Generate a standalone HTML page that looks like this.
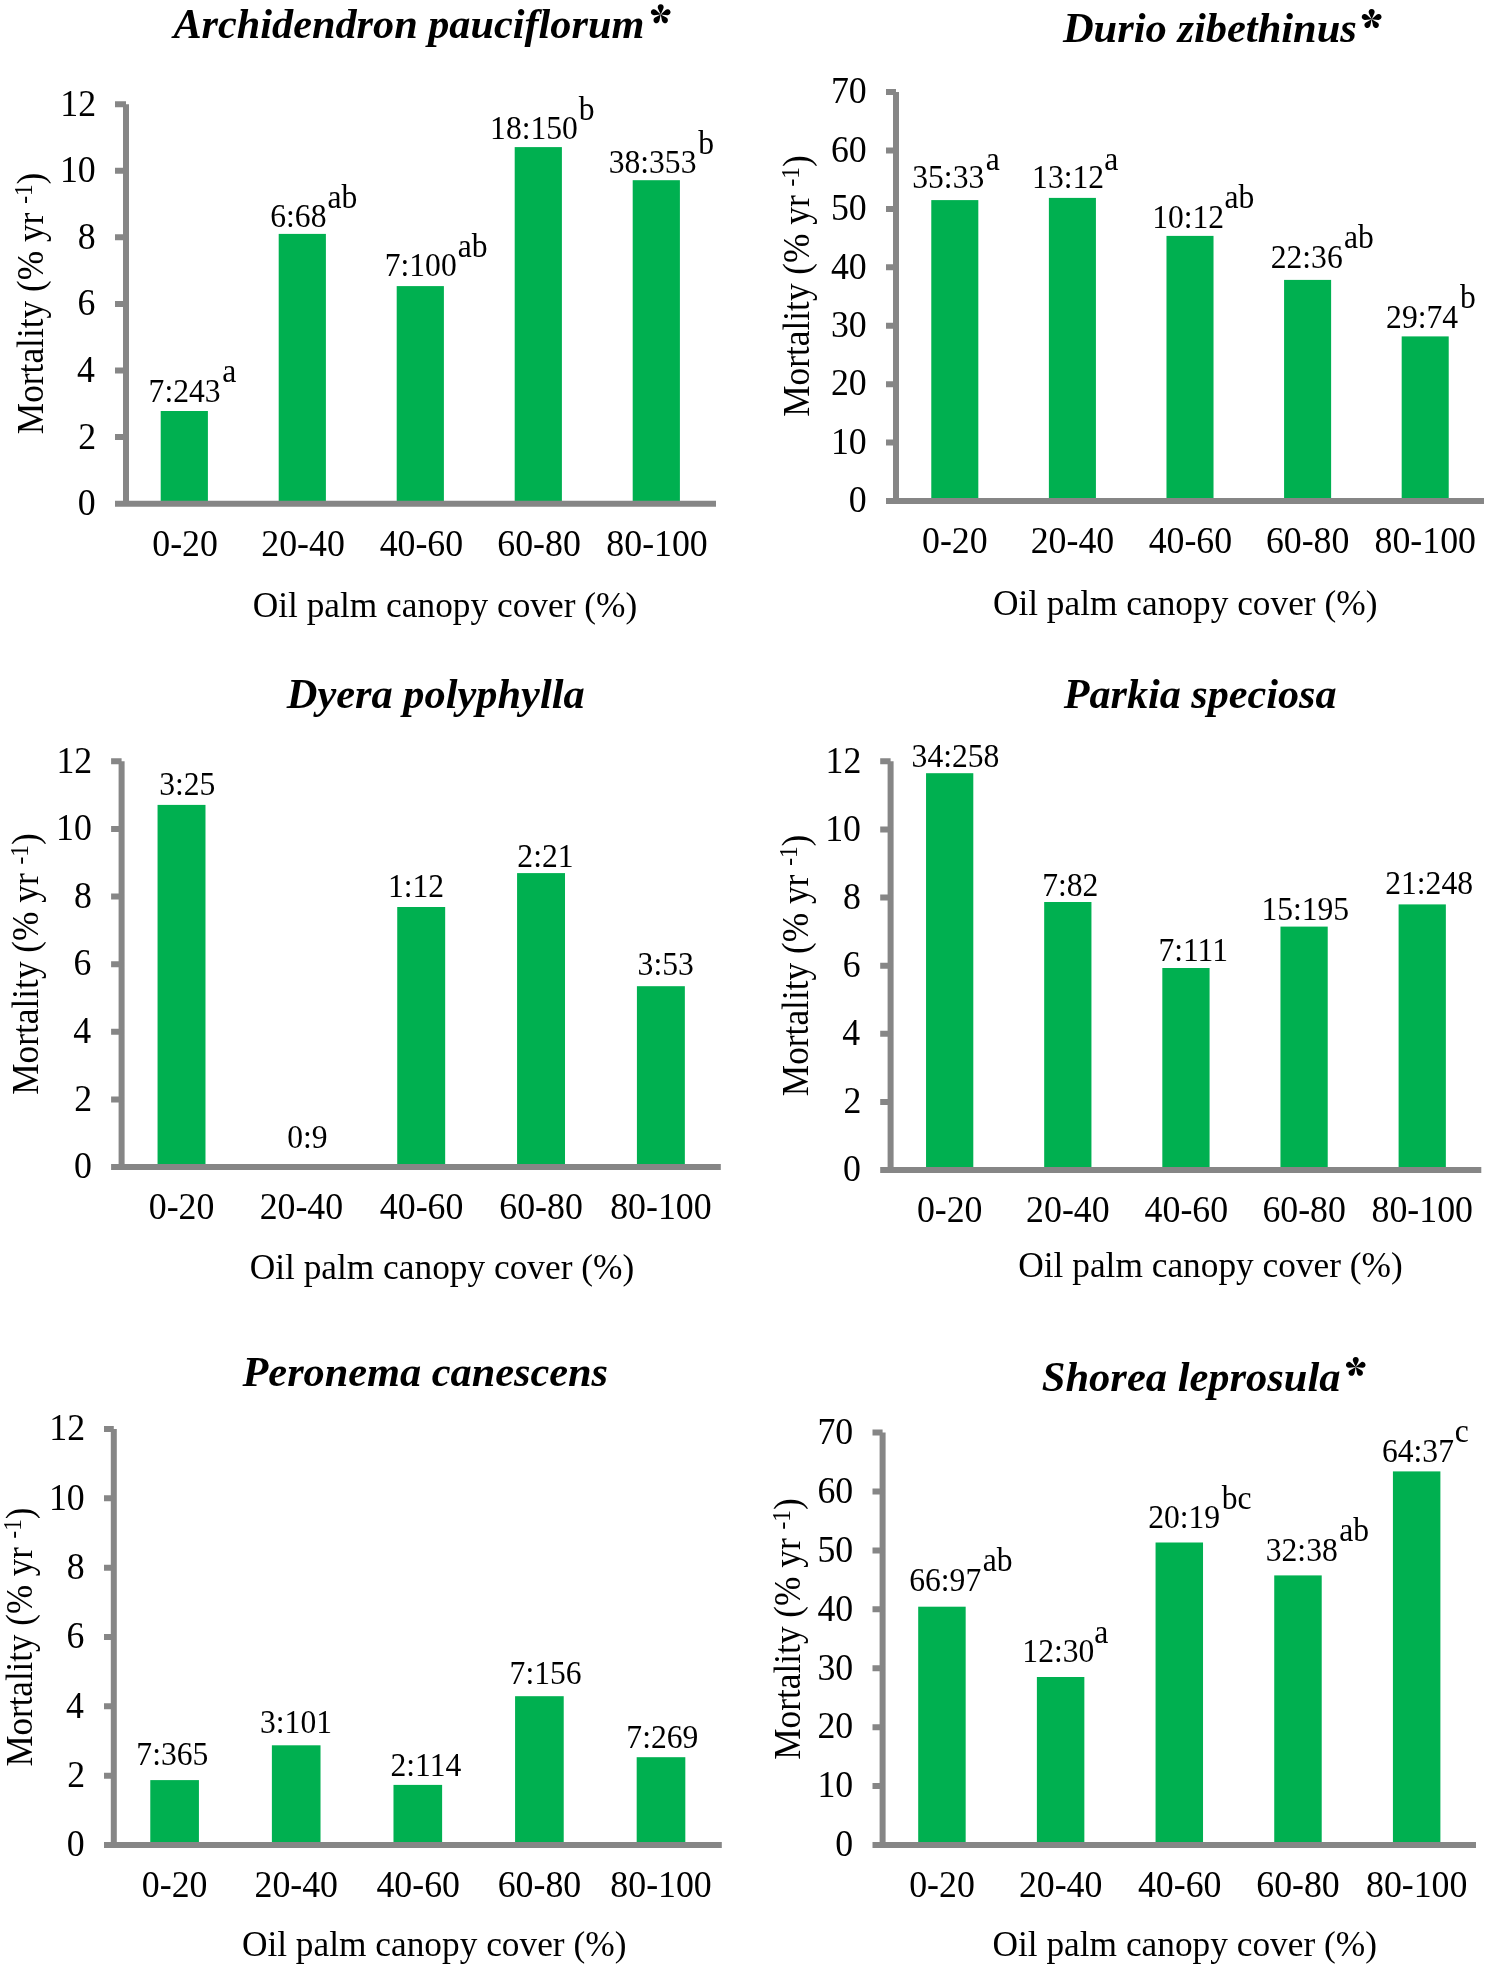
<!DOCTYPE html>
<html><head><meta charset="utf-8"><style>
html,body{margin:0;padding:0;background:#fff;}
svg{display:block;}
#c{position:absolute;left:0;top:0;width:1489px;height:1968px;will-change:transform;}
text{font-family:"Liberation Serif",serif;font-size:100px;fill:#000;}
</style></head><body>
<div id="c"><svg width="1489" height="1968" viewBox="0 0 1489 1968">
<rect width="1489" height="1968" fill="#fff"/>
<rect x="160.7" y="411" width="47.2" height="92.7" fill="#00B050"/>
<rect x="278.7" y="233.9" width="47.2" height="269.8" fill="#00B050"/>
<rect x="396.7" y="286.1" width="47.2" height="217.6" fill="#00B050"/>
<rect x="514.7" y="147.1" width="47.2" height="356.6" fill="#00B050"/>
<rect x="632.7" y="180.2" width="47.2" height="323.5" fill="#00B050"/>
<path d="M126 104.2V503.7M115 104.2H126M115 170.78H126M115 237.37H126M115 303.95H126M115 370.53H126M115 437.12H126M115 503.7H716" stroke="#868686" stroke-width="6" fill="none"/>
<text transform="matrix(0.358 0 0 0.37 60.29 115.63)">12</text>
<text transform="matrix(0.358 0 0 0.37 59.93 182.02)">10</text>
<text transform="matrix(0.358 0 0 0.37 77.83 248.61)">8</text>
<text transform="matrix(0.358 0 0 0.37 77.47 315.19)">6</text>
<text transform="matrix(0.358 0 0 0.37 77.12 381.77)">4</text>
<text transform="matrix(0.358 0 0 0.37 78.19 448.54)">2</text>
<text transform="matrix(0.358 0 0 0.37 77.83 514.94)">0</text>
<text transform="matrix(0.358 0 0 0.37 152.24 556.12)">0-20</text>
<text transform="matrix(0.358 0 0 0.37 261.29 556.12)">20-40</text>
<text transform="matrix(0.358 0 0 0.37 379.65 556.12)">40-60</text>
<text transform="matrix(0.358 0 0 0.37 497.29 556.12)">60-80</text>
<text transform="matrix(0.358 0 0 0.37 606.34 556.12)">80-100</text>
<text transform="matrix(0.316 0 0 0.33 148.6 402.23)">7:243</text>
<text transform="matrix(0.316 0 0 0.33 270.28 227.31)">6:68</text>
<text transform="matrix(0.316 0 0 0.33 384.75 276.46)">7:100</text>
<text transform="matrix(0.316 0 0 0.33 490.09 139.16)">18:150</text>
<text transform="matrix(0.316 0 0 0.33 608.67 173.31)">38:353</text>
<text transform="matrix(0.316 0 0 0.33 222.18 382.04)">a</text>
<text transform="matrix(0.316 0 0 0.33 327.45 207.87)">ab</text>
<text transform="matrix(0.316 0 0 0.33 457.75 256.52)">ab</text>
<text transform="matrix(0.316 0 0 0.33 578.63 119.52)">b</text>
<text transform="matrix(0.316 0 0 0.33 698.13 153.52)">b</text>
<text transform="matrix(0.4228 0 0 0.42973 173.41 37.8)" font-weight="bold" font-style="italic">Archidendron pauciflorum</text>
<g transform="translate(660.7 14.4) scale(0.99998)"><path transform="rotate(0)" d="M0 0L-2.72 -5.95A3 3 0 1 1 2.72 -5.95Z"/><path transform="rotate(72)" d="M0 0L-2.72 -5.95A3 3 0 1 1 2.72 -5.95Z"/><path transform="rotate(144)" d="M0 0L-2.72 -5.95A3 3 0 1 1 2.72 -5.95Z"/><path transform="rotate(216)" d="M0 0L-2.72 -5.95A3 3 0 1 1 2.72 -5.95Z"/><path transform="rotate(288)" d="M0 0L-2.72 -5.95A3 3 0 1 1 2.72 -5.95Z"/></g>
<text transform="matrix(0.3534 0 0 0.36 252.69 616.9)">Oil palm canopy cover (%)</text>
<text transform="matrix(0 -0.353 0.372 0 42.7 434.16)">Mortality (% yr <tspan dy="-28" font-size="66">-1</tspan><tspan dy="28">)</tspan></text>
<rect x="931.28" y="200.1" width="47.04" height="300.9" fill="#00B050"/>
<rect x="1048.88" y="197.9" width="47.04" height="303.1" fill="#00B050"/>
<rect x="1166.48" y="235.9" width="47.04" height="265.1" fill="#00B050"/>
<rect x="1284.08" y="279.9" width="47.04" height="221.1" fill="#00B050"/>
<rect x="1401.68" y="336.4" width="47.04" height="164.6" fill="#00B050"/>
<path d="M896 92.1V501M886 92.1H896M886 150.51H896M886 208.93H896M886 267.34H896M886 325.76H896M886 384.17H896M886 442.59H896M886 501H1484" stroke="#868686" stroke-width="6" fill="none"/>
<text transform="matrix(0.358 0 0 0.37 830.93 103.34)">70</text>
<text transform="matrix(0.358 0 0 0.37 830.93 161.75)">60</text>
<text transform="matrix(0.358 0 0 0.37 830.93 220.17)">50</text>
<text transform="matrix(0.358 0 0 0.37 830.93 278.58)">40</text>
<text transform="matrix(0.358 0 0 0.37 830.93 337)">30</text>
<text transform="matrix(0.358 0 0 0.37 830.93 395.41)">20</text>
<text transform="matrix(0.358 0 0 0.37 830.93 453.83)">10</text>
<text transform="matrix(0.358 0 0 0.37 848.83 512.24)">0</text>
<text transform="matrix(0.358 0 0 0.37 922.04 553.42)">0-20</text>
<text transform="matrix(0.358 0 0 0.37 1030.69 553.42)">20-40</text>
<text transform="matrix(0.358 0 0 0.37 1148.65 553.42)">40-60</text>
<text transform="matrix(0.358 0 0 0.37 1265.89 553.42)">60-80</text>
<text transform="matrix(0.358 0 0 0.37 1374.54 553.42)">80-100</text>
<text transform="matrix(0.316 0 0 0.33 912.27 188.32)">35:33</text>
<text transform="matrix(0.316 0 0 0.33 1032.1 188.17)">13:12</text>
<text transform="matrix(0.316 0 0 0.33 1152.2 228.36)">10:12</text>
<text transform="matrix(0.316 0 0 0.33 1270.72 268.21)">22:36</text>
<text transform="matrix(0.316 0 0 0.33 1386.11 328.03)">29:74</text>
<text transform="matrix(0.316 0 0 0.33 985.68 169.84)">a</text>
<text transform="matrix(0.316 0 0 0.33 1104.28 169.84)">a</text>
<text transform="matrix(0.316 0 0 0.33 1224.45 208.42)">ab</text>
<text transform="matrix(0.316 0 0 0.33 1344.1 247.87)">ab</text>
<text transform="matrix(0.316 0 0 0.33 1460.03 308.22)">b</text>
<text transform="matrix(0.42493 0 0 0.43189 1062.92 42.3)" font-weight="bold" font-style="italic">Durio zibethinus</text>
<g transform="translate(1371.65 19.15) scale(1.00513)"><path transform="rotate(0)" d="M0 0L-2.72 -5.95A3 3 0 1 1 2.72 -5.95Z"/><path transform="rotate(72)" d="M0 0L-2.72 -5.95A3 3 0 1 1 2.72 -5.95Z"/><path transform="rotate(144)" d="M0 0L-2.72 -5.95A3 3 0 1 1 2.72 -5.95Z"/><path transform="rotate(216)" d="M0 0L-2.72 -5.95A3 3 0 1 1 2.72 -5.95Z"/><path transform="rotate(288)" d="M0 0L-2.72 -5.95A3 3 0 1 1 2.72 -5.95Z"/></g>
<text transform="matrix(0.3534 0 0 0.36 992.89 614.7)">Oil palm canopy cover (%)</text>
<text transform="matrix(0 -0.353 0.372 0 809.1 416.76)">Mortality (% yr <tspan dy="-28" font-size="66">-1</tspan><tspan dy="28">)</tspan></text>
<rect x="157.55" y="804.9" width="47.94" height="362.1" fill="#00B050"/>
<rect x="397.23" y="907" width="47.94" height="260" fill="#00B050"/>
<rect x="517.07" y="873.1" width="47.94" height="293.9" fill="#00B050"/>
<rect x="636.91" y="986.2" width="47.94" height="180.8" fill="#00B050"/>
<path d="M121.6 761.3V1167M111.1 761.3H121.6M111.1 828.92H121.6M111.1 896.53H121.6M111.1 964.15H121.6M111.1 1031.77H121.6M111.1 1099.38H121.6M111.1 1167H720.8" stroke="#868686" stroke-width="6" fill="none"/>
<text transform="matrix(0.358 0 0 0.37 56.39 772.72)">12</text>
<text transform="matrix(0.358 0 0 0.37 56.03 840.16)">10</text>
<text transform="matrix(0.358 0 0 0.37 73.93 907.77)">8</text>
<text transform="matrix(0.358 0 0 0.37 73.57 975.39)">6</text>
<text transform="matrix(0.358 0 0 0.37 73.22 1043.01)">4</text>
<text transform="matrix(0.358 0 0 0.37 74.29 1110.81)">2</text>
<text transform="matrix(0.358 0 0 0.37 73.93 1178.24)">0</text>
<text transform="matrix(0.358 0 0 0.37 148.76 1219.42)">0-20</text>
<text transform="matrix(0.358 0 0 0.37 259.65 1219.42)">20-40</text>
<text transform="matrix(0.358 0 0 0.37 379.85 1219.42)">40-60</text>
<text transform="matrix(0.358 0 0 0.37 499.33 1219.42)">60-80</text>
<text transform="matrix(0.358 0 0 0.37 610.22 1219.42)">80-100</text>
<text transform="matrix(0.316 0 0 0.33 159.22 795.02)">3:25</text>
<text transform="matrix(0.316 0 0 0.33 287.13 1148.26)">0:9</text>
<text transform="matrix(0.316 0 0 0.33 388 897.08)">1:12</text>
<text transform="matrix(0.316 0 0 0.33 517.34 866.62)">2:21</text>
<text transform="matrix(0.316 0 0 0.33 637.62 974.63)">3:53</text>
<text transform="matrix(0.42397 0 0 0.43092 286.82 707.9)" font-weight="bold" font-style="italic">Dyera polyphylla</text>
<text transform="matrix(0.3534 0 0 0.36 249.69 1278.8)">Oil palm canopy cover (%)</text>
<text transform="matrix(0 -0.353 0.372 0 38.1 1094.76)">Mortality (% yr <tspan dy="-28" font-size="66">-1</tspan><tspan dy="28">)</tspan></text>
<rect x="926.04" y="773.2" width="47.26" height="396.8" fill="#00B050"/>
<rect x="1044.18" y="902" width="47.26" height="268" fill="#00B050"/>
<rect x="1162.32" y="968" width="47.26" height="202" fill="#00B050"/>
<rect x="1280.46" y="926.6" width="47.26" height="243.4" fill="#00B050"/>
<rect x="1398.6" y="904.4" width="47.26" height="265.6" fill="#00B050"/>
<path d="M890.6 761.3V1170M880.2 761.3H890.6M880.2 829.42H890.6M880.2 897.53H890.6M880.2 965.65H890.6M880.2 1033.77H890.6M880.2 1101.88H890.6M880.2 1170H1481.3" stroke="#868686" stroke-width="6" fill="none"/>
<text transform="matrix(0.358 0 0 0.37 825.49 772.72)">12</text>
<text transform="matrix(0.358 0 0 0.37 825.13 840.66)">10</text>
<text transform="matrix(0.358 0 0 0.37 843.03 908.77)">8</text>
<text transform="matrix(0.358 0 0 0.37 842.67 976.89)">6</text>
<text transform="matrix(0.358 0 0 0.37 842.32 1045.01)">4</text>
<text transform="matrix(0.358 0 0 0.37 843.39 1113.31)">2</text>
<text transform="matrix(0.358 0 0 0.37 843.03 1181.24)">0</text>
<text transform="matrix(0.358 0 0 0.37 916.91 1222.42)">0-20</text>
<text transform="matrix(0.358 0 0 0.37 1026.1 1222.42)">20-40</text>
<text transform="matrix(0.358 0 0 0.37 1144.6 1222.42)">40-60</text>
<text transform="matrix(0.358 0 0 0.37 1262.38 1222.42)">60-80</text>
<text transform="matrix(0.358 0 0 0.37 1371.57 1222.42)">80-100</text>
<text transform="matrix(0.316 0 0 0.33 911.62 766.66)">34:258</text>
<text transform="matrix(0.316 0 0 0.33 1042.22 896.46)">7:82</text>
<text transform="matrix(0.316 0 0 0.33 1158.38 961.02)">7:111</text>
<text transform="matrix(0.316 0 0 0.33 1261.39 920.13)">15:195</text>
<text transform="matrix(0.316 0 0 0.33 1385.23 894.31)">21:248</text>
<text transform="matrix(0.42171 0 0 0.42862 1063.7 708.4)" font-weight="bold" font-style="italic">Parkia speciosa</text>
<text transform="matrix(0.3534 0 0 0.36 1018.29 1277.1)">Oil palm canopy cover (%)</text>
<text transform="matrix(0 -0.353 0.372 0 807.8 1096.16)">Mortality (% yr <tspan dy="-28" font-size="66">-1</tspan><tspan dy="28">)</tspan></text>
<rect x="150.28" y="1780.1" width="48.64" height="64.9" fill="#00B050"/>
<rect x="271.88" y="1745.3" width="48.64" height="99.7" fill="#00B050"/>
<rect x="393.48" y="1784.9" width="48.64" height="60.1" fill="#00B050"/>
<rect x="515.08" y="1696.2" width="48.64" height="148.8" fill="#00B050"/>
<rect x="636.68" y="1757.2" width="48.64" height="87.8" fill="#00B050"/>
<path d="M113.8 1429V1845M104 1429H113.8M104 1498.33H113.8M104 1567.67H113.8M104 1637H113.8M104 1706.33H113.8M104 1775.67H113.8M104 1845H721.8" stroke="#868686" stroke-width="6" fill="none"/>
<text transform="matrix(0.358 0 0 0.37 49.29 1440.43)">12</text>
<text transform="matrix(0.358 0 0 0.37 48.93 1509.57)">10</text>
<text transform="matrix(0.358 0 0 0.37 66.83 1578.91)">8</text>
<text transform="matrix(0.358 0 0 0.37 66.47 1648.24)">6</text>
<text transform="matrix(0.358 0 0 0.37 66.12 1717.57)">4</text>
<text transform="matrix(0.358 0 0 0.37 67.19 1787.09)">2</text>
<text transform="matrix(0.358 0 0 0.37 66.83 1856.24)">0</text>
<text transform="matrix(0.358 0 0 0.37 141.84 1897.42)">0-20</text>
<text transform="matrix(0.358 0 0 0.37 254.49 1897.42)">20-40</text>
<text transform="matrix(0.358 0 0 0.37 376.45 1897.42)">40-60</text>
<text transform="matrix(0.358 0 0 0.37 497.69 1897.42)">60-80</text>
<text transform="matrix(0.358 0 0 0.37 610.34 1897.42)">80-100</text>
<text transform="matrix(0.316 0 0 0.33 136.35 1765.06)">7:365</text>
<text transform="matrix(0.316 0 0 0.33 260.03 1733.01)">3:101</text>
<text transform="matrix(0.316 0 0 0.33 390.54 1776.32)">2:114</text>
<text transform="matrix(0.316 0 0 0.33 509.59 1683.61)">7:156</text>
<text transform="matrix(0.316 0 0 0.33 626.35 1747.51)">7:269</text>
<text transform="matrix(0.42337 0 0 0.43031 242.5 1386.1)" font-weight="bold" font-style="italic">Peronema canescens</text>
<text transform="matrix(0.3534 0 0 0.36 241.89 1955.6)">Oil palm canopy cover (%)</text>
<text transform="matrix(0 -0.3497 0.372 0 31.5 1766.55)">Mortality (% yr <tspan dy="-28" font-size="66">-1</tspan><tspan dy="28">)</tspan></text>
<rect x="918.2" y="1606.7" width="47.47" height="238.3" fill="#00B050"/>
<rect x="1036.88" y="1677" width="47.47" height="168" fill="#00B050"/>
<rect x="1155.56" y="1542.5" width="47.47" height="302.5" fill="#00B050"/>
<rect x="1274.24" y="1575.4" width="47.47" height="269.6" fill="#00B050"/>
<rect x="1392.92" y="1471.4" width="47.47" height="373.6" fill="#00B050"/>
<path d="M882.6 1432.6V1845M872.5 1432.6H882.6M872.5 1491.51H882.6M872.5 1550.43H882.6M872.5 1609.34H882.6M872.5 1668.26H882.6M872.5 1727.17H882.6M872.5 1786.09H882.6M872.5 1845H1476" stroke="#868686" stroke-width="6" fill="none"/>
<text transform="matrix(0.358 0 0 0.37 817.43 1443.84)">70</text>
<text transform="matrix(0.358 0 0 0.37 817.43 1502.75)">60</text>
<text transform="matrix(0.358 0 0 0.37 817.43 1561.67)">50</text>
<text transform="matrix(0.358 0 0 0.37 817.43 1620.58)">40</text>
<text transform="matrix(0.358 0 0 0.37 817.43 1679.5)">30</text>
<text transform="matrix(0.358 0 0 0.37 817.43 1738.41)">20</text>
<text transform="matrix(0.358 0 0 0.37 817.43 1797.33)">10</text>
<text transform="matrix(0.358 0 0 0.37 835.33 1856.24)">0</text>
<text transform="matrix(0.358 0 0 0.37 909.18 1897.42)">0-20</text>
<text transform="matrix(0.358 0 0 0.37 1018.91 1897.42)">20-40</text>
<text transform="matrix(0.358 0 0 0.37 1137.95 1897.42)">40-60</text>
<text transform="matrix(0.358 0 0 0.37 1256.27 1897.42)">60-80</text>
<text transform="matrix(0.358 0 0 0.37 1366 1897.42)">80-100</text>
<text transform="matrix(0.316 0 0 0.33 909.22 1591.16)">66:97</text>
<text transform="matrix(0.316 0 0 0.33 1022.34 1661.91)">12:30</text>
<text transform="matrix(0.316 0 0 0.33 1148.13 1528.06)">20:19</text>
<text transform="matrix(0.316 0 0 0.33 1265.77 1560.66)">32:38</text>
<text transform="matrix(0.316 0 0 0.33 1381.97 1461.76)">64:37</text>
<text transform="matrix(0.316 0 0 0.33 982.65 1570.87)">ab</text>
<text transform="matrix(0.316 0 0 0.33 1094.18 1642.54)">a</text>
<text transform="matrix(0.316 0 0 0.33 1221.77 1508.52)">bc</text>
<text transform="matrix(0.316 0 0 0.33 1339.2 1541.22)">ab</text>
<text transform="matrix(0.316 0 0 0.33 1454.84 1442.19)">c</text>
<text transform="matrix(0.42507 0 0 0.43204 1041.85 1390.5)" font-weight="bold" font-style="italic">Shorea leprosula</text>
<g transform="translate(1355.75 1367.05) scale(0.99482)"><path transform="rotate(0)" d="M0 0L-2.72 -5.95A3 3 0 1 1 2.72 -5.95Z"/><path transform="rotate(72)" d="M0 0L-2.72 -5.95A3 3 0 1 1 2.72 -5.95Z"/><path transform="rotate(144)" d="M0 0L-2.72 -5.95A3 3 0 1 1 2.72 -5.95Z"/><path transform="rotate(216)" d="M0 0L-2.72 -5.95A3 3 0 1 1 2.72 -5.95Z"/><path transform="rotate(288)" d="M0 0L-2.72 -5.95A3 3 0 1 1 2.72 -5.95Z"/></g>
<text transform="matrix(0.3534 0 0 0.36 992.49 1955.6)">Oil palm canopy cover (%)</text>
<text transform="matrix(0 -0.353 0.372 0 800 1759.76)">Mortality (% yr <tspan dy="-28" font-size="66">-1</tspan><tspan dy="28">)</tspan></text>
</svg></div>
</body></html>
